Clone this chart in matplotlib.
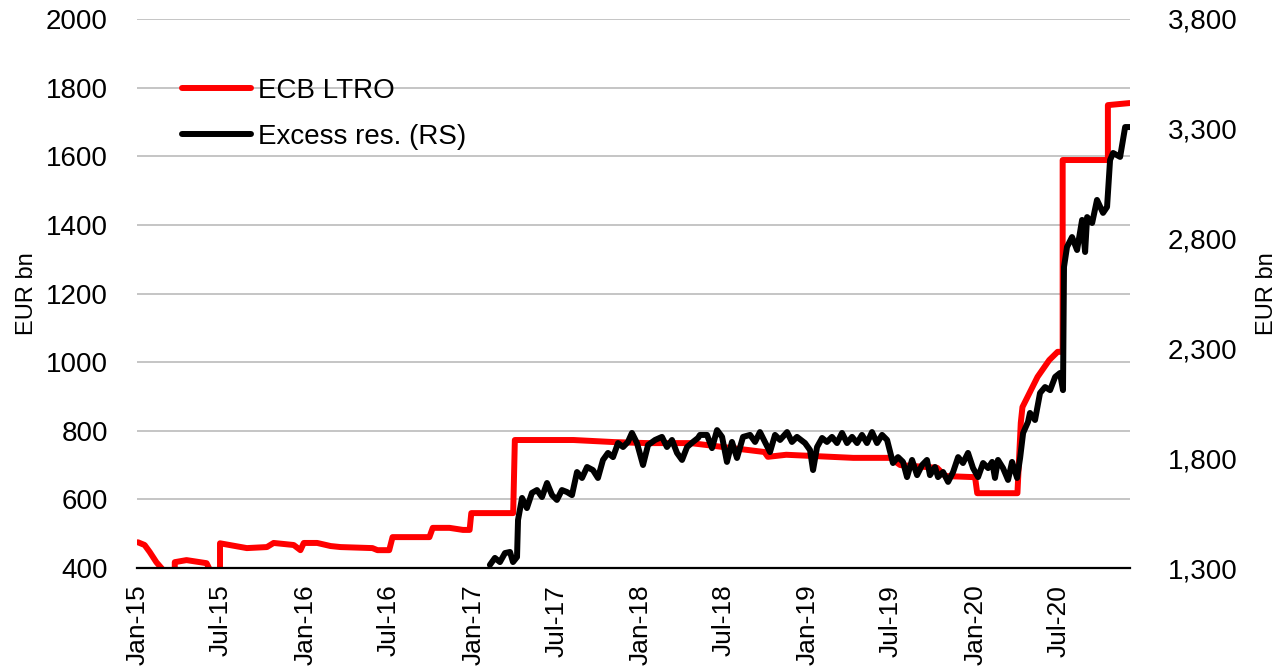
import numpy as np
import pandas as pd
import matplotlib
matplotlib.use('Agg')
import matplotlib.pyplot as plt
import matplotlib.dates as mdates
from datetime import datetime, timedelta

plt.rcParams['font.family'] = ['Liberation Sans', 'DejaVu Sans']

# ECB LTRO outstanding (EUR bn, left scale), time as decimal year
ltro_t = [2015.00, 2015.04, 2015.07, 2015.11, 2015.14, 2015.16, 2015.22, 2015.22, 2015.29, 2015.41,
          2015.43, 2015.49, 2015.49, 2015.65, 2015.77, 2015.81, 2015.93, 2015.97, 2015.99, 2016.07,
          2016.15, 2016.21, 2016.40, 2016.43, 2016.50, 2016.52, 2016.74, 2016.76, 2016.86, 2016.94,
          2016.98, 2016.99, 2017.24, 2017.25, 2017.60, 2017.84, 2018.04, 2018.30, 2018.64, 2018.74,
          2018.76, 2018.87, 2019.27, 2019.49, 2019.55, 2019.77, 2019.82, 2019.98, 2019.997, 2020.01,
          2020.25, 2020.27, 2020.28, 2020.37, 2020.44, 2020.49, 2020.52, 2020.52, 2020.62, 2020.79,
          2020.79, 2020.92]
ltro_v = [475, 467, 447, 417, 400, 388, 388, 417, 423, 414,
          394, 394, 472, 458, 461, 473, 467, 452, 473, 473,
          464, 461, 458, 452, 452, 490, 490, 517, 517, 511,
          511, 560, 560, 773, 773, 767, 764, 764, 744, 738,
          724, 730, 721, 721, 700, 692, 668, 665, 665, 618,
          618, 823, 869, 957, 1006, 1030, 1030, 1589, 1589, 1589,
          1749, 1755]

# Excess reserves (EUR bn, right scale)
res_t = [2017.101, 2017.131, 2017.161, 2017.191, 2017.221, 2017.239, 2017.263, 2017.269, 2017.293, 2017.322,
         2017.352, 2017.382, 2017.412, 2017.442, 2017.472, 2017.501, 2017.531, 2017.561, 2017.591, 2017.621,
         2017.651, 2017.681, 2017.716, 2017.746, 2017.776, 2017.806, 2017.836, 2017.866, 2017.896, 2017.925,
         2017.949, 2017.979, 2018.015, 2018.045, 2018.087, 2018.128, 2018.158, 2018.188, 2018.218, 2018.248,
         2018.278, 2018.313, 2018.343, 2018.355, 2018.397, 2018.427, 2018.457, 2018.487, 2018.516, 2018.546,
         2018.576, 2018.612, 2018.654, 2018.684, 2018.713, 2018.743, 2018.773, 2018.803, 2018.833, 2018.875,
         2018.904, 2018.934, 2018.982, 2019.012, 2019.030, 2019.054, 2019.084, 2019.113, 2019.143, 2019.173,
         2019.203, 2019.233, 2019.263, 2019.293, 2019.322, 2019.352, 2019.382, 2019.412, 2019.442, 2019.472,
         2019.507, 2019.537, 2019.567, 2019.591, 2019.621, 2019.651, 2019.681, 2019.710, 2019.728, 2019.758,
         2019.776, 2019.806, 2019.836, 2019.866, 2019.896, 2019.925, 2019.955, 2019.985, 2020.015, 2020.045,
         2020.075, 2020.099, 2020.116, 2020.134, 2020.164, 2020.194, 2020.218, 2020.248, 2020.266, 2020.284,
         2020.313, 2020.325, 2020.355, 2020.385, 2020.415, 2020.445, 2020.475, 2020.504, 2020.522, 2020.528,
         2020.546, 2020.576, 2020.606, 2020.636, 2020.654, 2020.666, 2020.696, 2020.725, 2020.761, 2020.785,
         2020.803, 2020.821, 2020.863, 2020.893, 2020.922]
res_v = [1314, 1346, 1327, 1368, 1373, 1327, 1350, 1519, 1619, 1573,
         1642, 1655, 1623, 1687, 1632, 1610, 1655, 1646, 1632, 1737,
         1710, 1760, 1746, 1710, 1792, 1824, 1805, 1869, 1851, 1874,
         1915, 1869, 1769, 1860, 1883, 1897, 1851, 1883, 1824, 1792,
         1851, 1874, 1892, 1906, 1906, 1846, 1928, 1897, 1783, 1874,
         1801, 1897, 1906, 1874, 1919, 1874, 1828, 1906, 1883, 1919,
         1874, 1897, 1869, 1837, 1746, 1851, 1892, 1874, 1897, 1869,
         1915, 1869, 1897, 1869, 1906, 1869, 1919, 1869, 1906, 1883,
         1778, 1805, 1783, 1714, 1792, 1723, 1769, 1792, 1723, 1760,
         1714, 1737, 1692, 1737, 1805, 1778, 1824, 1755, 1714, 1778,
         1755, 1783, 1710, 1792, 1755, 1701, 1783, 1710, 1801, 1915,
         1965, 2006, 1974, 2097, 2124, 2110, 2170, 2188, 2110, 2671,
         2762, 2807, 2748, 2885, 2739, 2898, 2871, 2976, 2917, 2944,
         3158, 3190, 3172, 3308, 3308]

left_ticks = [400, 600, 800, 1000, 1200, 1400, 1600, 1800, 2000]
right_ticks = [1300, 1800, 2300, 2800, 3300, 3800]


def to_date(yrs):
    base = datetime(2015, 1, 1)
    return [base + timedelta(days=(y - 2015) * 365.25) for y in yrs]


fig = plt.figure(figsize=(12.84, 6.68), dpi=100)
ax = fig.add_axes([137/1284, 1 - 568/668, (1130-137)/1284, (568-19)/668])
ax2 = ax.twinx()

l1, = ax.plot(to_date(ltro_t), ltro_v, color='#ff0000', lw=4.3,
              solid_joinstyle='round', solid_capstyle='round', label='ECB LTRO')
l2, = ax2.plot(to_date(res_t), res_v, color='black', lw=4.3,
               solid_joinstyle='round', solid_capstyle='round', label='Excess res. (RS)')

ax.set_ylim(400, 2000)
ax2.set_ylim(1300, 3800)
ax.set_yticks(left_ticks)
ax2.set_yticks(right_ticks)
ax2.set_yticklabels(['{:,}'.format(v) for v in right_ticks])
ax.set_xlim(datetime(2014, 12, 30), datetime(2020, 12, 3))

xt = [datetime(y, m, 1) for y in range(2015, 2021) for m in (1, 7)]
ax.set_xticks(xt)
ax.xaxis.set_major_formatter(mdates.DateFormatter('%b-%y'))
for lab in ax.get_xticklabels():
    lab.set_rotation(90)

ax.yaxis.grid(True, color='#c0c0c0', lw=1.3)
ax.set_axisbelow(True)
for s in ['top', 'left', 'right']:
    ax.spines[s].set_visible(False)
    ax2.spines[s].set_visible(False)
ax2.spines['bottom'].set_visible(False)
ax.spines['bottom'].set_linewidth(1.6)
ax.spines['bottom'].set_zorder(5)

ax.tick_params(axis='y', length=0, pad=21, labelsize=20)
ax2.tick_params(axis='y', length=0, pad=27, labelsize=20)
ax.tick_params(axis='x', length=0, pad=12, labelsize=19)

ax.set_ylabel('EUR bn', fontsize=17)
ax.yaxis.set_label_coords(-0.100, 0.5)
ax2.set_ylabel('EUR bn', fontsize=17, rotation=90)
ax2.yaxis.set_label_coords(1.127, 0.5)

ax2.legend(handles=[l1, l2], loc='upper left', bbox_to_anchor=(182/1284, 1 - 78/668),
           bbox_transform=fig.transFigure, frameon=False, fontsize=20,
           handlelength=2.5, handletextpad=0.25, labelspacing=0.72,
           borderpad=0, borderaxespad=0)

fig.savefig('out.png', dpi=100)
